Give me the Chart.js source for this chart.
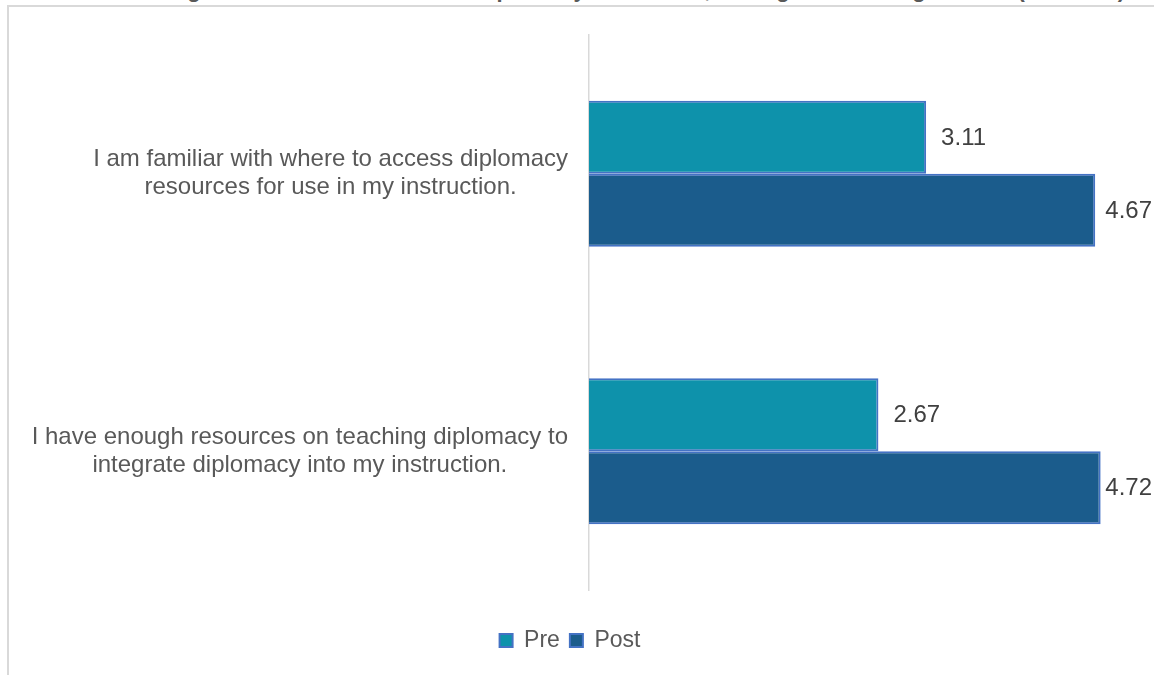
<!DOCTYPE html>
<html>
<head>
<meta charset="utf-8">
<script src="https://cdn.jsdelivr.net/npm/chart.js@4"></script>
<style>
  html, body { margin: 0; padding: 0; background: #fff; overflow: hidden; }
  body { width: 1154px; height: 675px; position: relative; }
  .title {
    position: absolute; top: -21px; right: 29px;
    font: bold 22px/22px "Liberation Sans", Arial, sans-serif;
    color: #595959; white-space: nowrap;
  }
  .frame {
    position: absolute; left: 7px; top: 5px;
    width: 1145px; height: 668px;
    border-left: 2px solid #d9d9d9; border-top: 2px solid #d9d9d9;
  }
</style>
</head>
<body>
<div class="title">Figure 11. Teacher Access to Diplomacy Resources, Average Level of Agreement (1-5 scale)</div>
<div class="frame"><canvas id="chart"></canvas></div>
<script>
const categories = [
  ["I am familiar with where to access diplomacy", "resources for use in my instruction."],
  ["I have enough resources on teaching diplomacy to", "integrate diplomacy into my instruction."],
];
const preValues = [3.11, 2.67];
const postValues = [4.67, 4.72];
const seriesNames = ["Pre", "Post"];

const FONT = "'Liberation Sans', Arial, sans-serif";

// category labels: block right-aligned to the axis, lines centred inside the block
const categoryLabels = {
  id: "categoryLabels",
  afterDraw(chart) {
    const yScale = chart.scales.y;
    const ctx = chart.ctx;
    const right = chart.chartArea.left - 21;
    const lineHeight = 28;
    ctx.save();
    ctx.font = "24px " + FONT;
    ctx.fillStyle = "#595959";
    ctx.textAlign = "center";
    ctx.textBaseline = "middle";
    categories.forEach((lines, i) => {
      const widest = Math.max(...lines.map((l) => ctx.measureText(l).width));
      const cx = right - widest / 2;
      const cy = yScale.getPixelForTick(i);
      lines.forEach((line, j) => {
        ctx.fillText(line, cx, cy + (j - (lines.length - 1) / 2) * lineHeight);
      });
    });
    ctx.restore();
  },
};

// value labels just past the end of each bar, kept inside the canvas
const valueLabels = {
  id: "valueLabels",
  afterDatasetsDraw(chart) {
    const ctx = chart.ctx;
    ctx.save();
    ctx.font = "24px " + FONT;
    ctx.fillStyle = "#404040";
    ctx.textAlign = "left";
    ctx.textBaseline = "middle";
    chart.data.datasets.forEach((ds, di) => {
      chart.getDatasetMeta(di).data.forEach((bar, i) => {
        const text = ds.data[i].toFixed(2);
        const w = ctx.measureText(text).width;
        const x = Math.min(bar.x + 15, chart.width - w - 2);
        ctx.fillText(text, x, bar.y + 1);
      });
    });
    ctx.restore();
  },
};

const ctx = document.getElementById("chart").getContext("2d");
new Chart(ctx, {
  type: "bar",
  data: {
    labels: categories,
    datasets: [
      {
        label: seriesNames[0],
        data: preValues,
        backgroundColor: "#0e92ab",
        borderColor: "#4472c4",
        borderWidth: 2,
        categoryPercentage: 0.526,
        barPercentage: 1,
      },
      {
        label: seriesNames[1],
        data: postValues,
        backgroundColor: "#1b5c8c",
        borderColor: "#4472c4",
        borderWidth: 2,
        categoryPercentage: 0.526,
        barPercentage: 1,
      },
    ],
  },
  options: {
    indexAxis: "y",
    responsive: true,
    maintainAspectRatio: false,
    animation: false,
    layout: { padding: { left: 0, right: 23, top: 28, bottom: 13 } },
    scales: {
      x: {
        min: 0,
        max: 5,
        grid: { display: false },
        border: { display: false },
        ticks: { display: false },
        afterFit(scale) { scale.height = 29; },
      },
      y: {
        grid: { display: false },
        border: { display: true, color: "#d9d9d9", width: 1.5 },
        ticks: { display: false },
        afterFit(scale) { scale.width = 580; },
      },
    },
    plugins: {
      legend: {
        position: "bottom",
        labels: {
          font: { family: FONT, size: 23 },
          color: "#595959",
          boxWidth: 13,
          boxHeight: 13,
          padding: 10,
        },
      },
      tooltip: { enabled: false },
    },
  },
  plugins: [categoryLabels, valueLabels],
});
</script>
</body>
</html>
